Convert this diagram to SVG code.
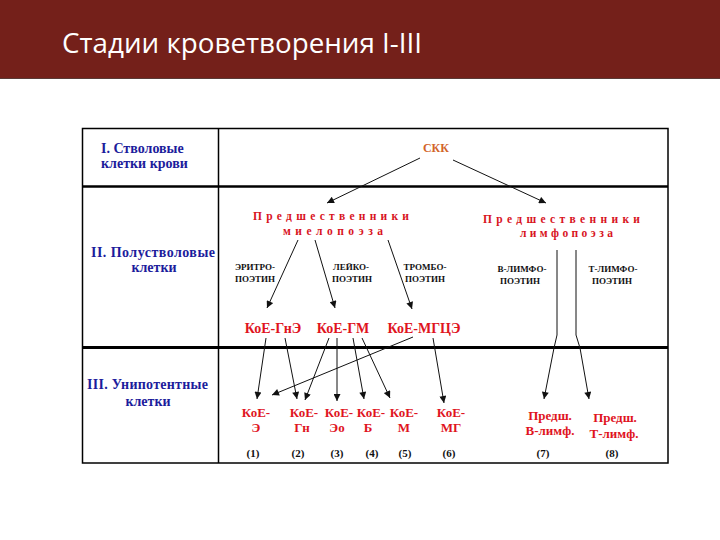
<svg xmlns="http://www.w3.org/2000/svg" width="720" height="540" viewBox="0 0 720 540">
<style>
.title{font-family:"Open Sans","Noto Sans",sans-serif;font-size:27px;fill:#ffffff}
.blue{font-family:"Liberation Serif",serif;font-weight:bold;font-size:14px;fill:#1c1c9c}
.red{font-family:"Liberation Serif",serif;font-weight:bold;font-size:13px;fill:#e0141e}
.red2{font-family:"Liberation Serif",serif;font-weight:bold;font-size:14px;fill:#e0141e}
.redsp{font-family:"Liberation Serif",serif;font-weight:bold;font-size:11.5px;fill:#d8141e}
.skk{font-family:"Liberation Serif",serif;font-weight:bold;font-size:12px;fill:#d2642a}
.sm{font-family:"Liberation Serif",serif;font-weight:bold;font-size:9px;fill:#111}
.num{font-family:"Liberation Serif",serif;font-weight:bold;font-size:11px;fill:#111}
.c{text-anchor:middle}
.arr{stroke:#111;stroke-width:1;fill:none;marker-end:url(#ah)}
.grid{stroke:#000;fill:none}
</style>
<defs>
<marker id="ah" viewBox="0 0 10 10" refX="10" refY="5" markerWidth="10" markerHeight="7" markerUnits="userSpaceOnUse" orient="auto">
<path d="M0,0 L10,5 L0,10 z" fill="#111"/>
</marker>
</defs>
<rect x="0" y="0" width="720" height="540" fill="#ffffff"/>
<g id="header">
<rect x="0" y="0" width="720" height="78" fill="#74201a"/>
<line x1="0" y1="78.5" x2="720" y2="78.5" stroke="#5a3a36" stroke-width="1"/>
<text class="title" x="62" y="53" textLength="360" lengthAdjust="spacingAndGlyphs">Стадии кроветворения I-III</text>
</g>
<g id="table">
<rect class="grid" x="82.5" y="128.5" width="585.5" height="334.5" stroke-width="1.5"/>
<line class="grid" x1="218.5" y1="128" x2="218.5" y2="463" stroke-width="1.5"/>
<line class="grid" x1="82" y1="186.5" x2="668" y2="186.5" stroke-width="2.5"/>
<line class="grid" x1="82" y1="347.5" x2="668" y2="347.5" stroke-width="3"/>
</g>
<g id="row-labels">
<text class="blue" x="101" y="153">I. Стволовые</text>
<text class="blue" x="101" y="168">клетки крови</text>
<text class="blue" x="91" y="257" textLength="124">II. Полустволовые</text>
<text class="blue c" x="154" y="272">клетки</text>
<text class="blue" x="87" y="389" textLength="121">III. Унипотентные</text>
<text class="blue c" x="148" y="406">клетки</text>
</g>
<g id="skk"><text class="skk c" x="436" y="152">СКК</text></g>
<g id="myelo">
<text class="redsp" x="253" y="220" textLength="156" lengthAdjust="spacing">Предшественники</text>
<text class="redsp" x="283" y="235" textLength="100" lengthAdjust="spacing">миелопоэза</text>
</g>
<g id="lympho">
<text class="redsp" x="483" y="223" textLength="157" lengthAdjust="spacing">Предшественники</text>
<text class="redsp" x="520" y="237" textLength="93" lengthAdjust="spacing">лимфопоэза</text>
</g>
<g id="factors">
<text class="sm c" x="255" y="270">ЭРИТРО-</text>
<text class="sm c" x="255" y="282">ПОЭТИН</text>
<text class="sm c" x="351" y="270">ЛЕЙКО-</text>
<text class="sm c" x="352" y="282">ПОЭТИН</text>
<text class="sm c" x="425" y="270">ТРОМБО-</text>
<text class="sm c" x="425" y="282">ПОЭТИН</text>
<text class="sm c" x="522" y="272">В-ЛИМФО-</text>
<text class="sm c" x="520" y="284">ПОЭТИН</text>
<text class="sm c" x="613" y="272">Т-ЛИМФО-</text>
<text class="sm c" x="612" y="284">ПОЭТИН</text>
</g>
<g id="koe-gne"><text class="red2 c" x="273" y="333">КоЕ-ГнЭ</text></g>
<g id="koe-gm"><text class="red2 c" x="343" y="333">КоЕ-ГМ</text></g>
<g id="koe-mgce"><text class="red2 c" x="424" y="333">КоЕ-МГЦЭ</text></g>
<g id="n1"><text class="red c" x="256" y="417">КоЕ-</text><text class="red c" x="256" y="432">Э</text><text class="num c" x="253" y="457">(1)</text></g>
<g id="n2"><text class="red c" x="304" y="417">КоЕ-</text><text class="red c" x="302" y="432">Гн</text><text class="num c" x="298" y="457">(2)</text></g>
<g id="n3"><text class="red c" x="339" y="417">КоЕ-</text><text class="red c" x="337" y="432">Эо</text><text class="num c" x="337" y="457">(3)</text></g>
<g id="n4"><text class="red c" x="371" y="417">КоЕ-</text><text class="red c" x="368" y="432">Б</text><text class="num c" x="372" y="457">(4)</text></g>
<g id="n5"><text class="red c" x="404" y="417">КоЕ-</text><text class="red c" x="404" y="432">М</text><text class="num c" x="405" y="457">(5)</text></g>
<g id="n6"><text class="red c" x="451" y="417">КоЕ-</text><text class="red c" x="451" y="432">МГ</text><text class="num c" x="449" y="457">(6)</text></g>
<g id="n7"><text class="red c" x="550" y="420">Предш.</text><text class="red c" x="550" y="435">В-лимф.</text><text class="num c" x="543" y="457">(7)</text></g>
<g id="n8"><text class="red c" x="615" y="422">Предш.</text><text class="red c" x="614" y="438">Т-лимф.</text><text class="num c" x="612" y="457">(8)</text></g>
<g id="connectors">
<line class="arr" x1="420" y1="158" x2="327" y2="203"/>
<line class="arr" x1="453" y1="160" x2="546" y2="203"/>
<line class="arr" x1="298" y1="240" x2="267" y2="308"/>
<line class="arr" x1="315" y1="240" x2="335" y2="308"/>
<line class="arr" x1="388" y1="240" x2="412" y2="309"/>
<polyline class="arr" points="557,250 557,335 554,348 544,399"/>
<polyline class="arr" points="576,250 576,335 580,348 589,399"/>
<line class="arr" x1="266" y1="338" x2="257" y2="399"/>
<line class="arr" x1="285" y1="338" x2="297" y2="399"/>
<line class="arr" x1="329" y1="338" x2="305" y2="400"/>
<line class="arr" x1="337" y1="338" x2="337" y2="401"/>
<line class="arr" x1="353" y1="338" x2="364" y2="399"/>
<line class="arr" x1="362" y1="338" x2="390" y2="398"/>
<line class="arr" x1="413" y1="337" x2="272" y2="395" stroke-width="0.9"/>
<line class="arr" x1="433" y1="338" x2="444" y2="403"/>
</g>
</svg>
